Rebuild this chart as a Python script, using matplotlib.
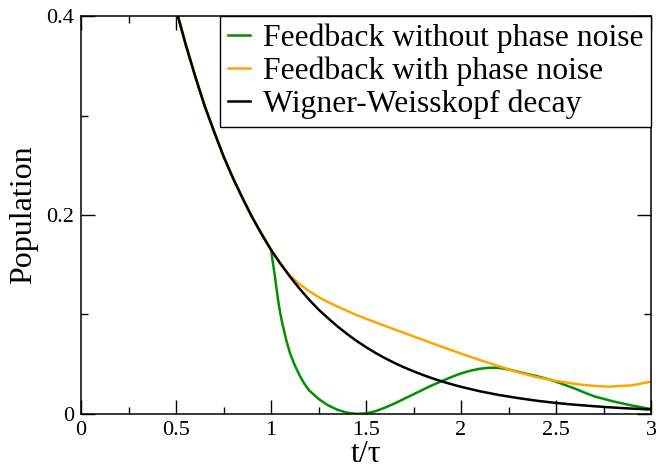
"""Population decay with and without time-delayed feedback"""
import numpy as np
import matplotlib
matplotlib.use("Agg")
import matplotlib.pyplot as plt
from matplotlib.ticker import MultipleLocator

plt.rcParams["font.family"] = ["Liberation Serif", "DejaVu Serif"]

# Wigner-Weisskopf decay
t_ww = [0.45, 0.5, 0.55, 0.6, 0.65, 0.7, 0.75, 0.8, 0.85, 0.9, 0.95, 1.0,
        1.05, 1.1, 1.15, 1.2, 1.25, 1.3, 1.35, 1.4, 1.45, 1.5, 1.55, 1.6,
        1.65, 1.7, 1.75, 1.8, 1.85, 1.9, 1.95, 2.0, 2.1, 2.2, 2.3, 2.4,
        2.5, 2.6, 2.7, 2.8, 2.9, 3.0]
p_ww = [0.445, 0.407, 0.372, 0.340, 0.310, 0.284, 0.259, 0.237, 0.217,
        0.198, 0.181, 0.165, 0.151, 0.138, 0.126, 0.115, 0.105, 0.0963,
        0.0880, 0.0805, 0.0735, 0.0672, 0.0614, 0.0561, 0.0513, 0.0469,
        0.0429, 0.0392, 0.0358, 0.0327, 0.0299, 0.0273, 0.0228, 0.0191,
        0.0160, 0.0133, 0.0111, 0.0093, 0.0078, 0.0065, 0.0054, 0.0045]

# feedback without phase noise, after t = tau
t_fb = [1.01, 1.02, 1.03, 1.04, 1.05, 1.06, 1.08, 1.10, 1.125, 1.15, 1.175,
        1.2, 1.25, 1.3, 1.35, 1.4, 1.45, 1.5, 1.55, 1.6, 1.65, 1.7, 1.75,
        1.8, 1.85, 1.9, 1.95, 2.0, 2.05, 2.1, 2.15, 2.2, 2.25, 2.3, 2.35,
        2.4, 2.45, 2.5, 2.55, 2.6, 2.65, 2.7, 2.8, 2.9, 3.0]
p_fb = [0.152, 0.139, 0.1245, 0.111, 0.1, 0.0905, 0.0745, 0.061, 0.049,
        0.039, 0.0305, 0.0238, 0.0152, 0.0087, 0.0042, 0.0013, 0.0001,
        0.0006, 0.0028, 0.0064, 0.0105, 0.0152, 0.0198, 0.0245, 0.029,
        0.0332, 0.0372, 0.0408, 0.0435, 0.0455, 0.0465, 0.0463, 0.0448,
        0.0425, 0.0402, 0.038, 0.0355, 0.0325, 0.029, 0.0255, 0.0215,
        0.0178, 0.0127, 0.0085, 0.005]

# feedback with phase noise, after t = tau
t_pn = [1.05, 1.1, 1.15, 1.2, 1.25, 1.3, 1.35, 1.4, 1.45, 1.5, 1.6, 1.7,
        1.8, 1.9, 2.0, 2.1, 2.2, 2.3, 2.4, 2.5, 2.6, 2.7, 2.78, 2.9, 3.0]
p_pn = [0.151, 0.139, 0.1305, 0.1235, 0.1175, 0.1125, 0.108, 0.1037,
        0.0995, 0.0957, 0.0885, 0.0815, 0.0745, 0.0675, 0.0607, 0.0542,
        0.048, 0.042, 0.037, 0.0333, 0.0302, 0.0282, 0.0275, 0.0288, 0.0325]

labels = ["Feedback without phase noise", "Feedback with phase noise",
          "Wigner-Weisskopf decay"]

# before t = tau all three curves coincide
n_early = t_ww.index(1.0) + 1
t_green = t_ww[:n_early] + t_fb
y_green = p_ww[:n_early] + p_fb
t_orange = t_ww[:n_early] + t_pn
y_orange = p_ww[:n_early] + p_pn

fig = plt.figure(figsize=(6.56, 4.68), dpi=100)
ax = fig.add_axes([0.1235, 0.1154, 0.8689, 0.8504])

ax.plot(t_green, y_green, color="#009000", lw=1.8, label=labels[0])
ax.plot(t_orange, y_orange, color="#ffa500", lw=1.8, label=labels[1])
ax.plot(t_ww, p_ww, color="black", lw=1.8, label=labels[2])

ax.set_xlim(0, 3)
ax.set_ylim(0, 0.4)
ax.xaxis.set_minor_locator(MultipleLocator(0.25))
ax.yaxis.set_minor_locator(MultipleLocator(0.1))
ax.set_xticks(np.arange(0, 3.01, 0.5))
ax.set_xticklabels(["0", "0.5", "1", "1.5", "2", "2.5", "3"])
ax.set_yticks([0, 0.2, 0.4])
ax.set_yticklabels(["0", "0.2", "0.4"])

ax.tick_params(which="both", direction="in", top=True, right=True, width=1)
ax.tick_params(which="major", length=10, labelsize=16, pad=5)
ax.tick_params(which="minor", length=5)
for s in ax.spines.values():
    s.set_linewidth(1.1)

ax.set_xlabel("t/τ", fontsize=23, labelpad=0)
ax.set_ylabel("Population", fontsize=23, labelpad=6)

leg = ax.legend(loc="upper right", fontsize=22.8, frameon=True, fancybox=False,
                borderaxespad=0, handlelength=0.7, handletextpad=0.4,
                labelspacing=0.1, borderpad=0.25, framealpha=1)
leg.get_frame().set_edgecolor("black")
leg.get_frame().set_linewidth(1.0)

fig.savefig("out.png", dpi=100, facecolor="white")
